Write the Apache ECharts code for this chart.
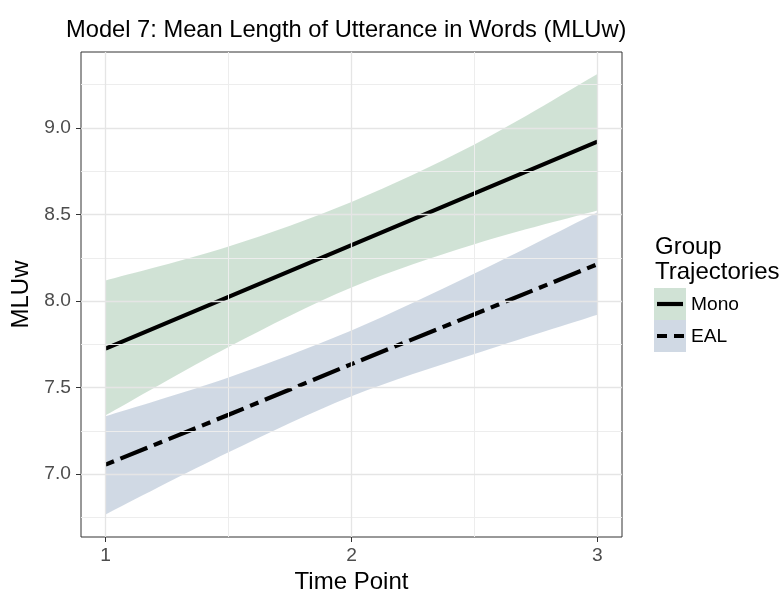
<!DOCTYPE html>
<html>
<head>
<meta charset="utf-8">
<script src="https://cdn.jsdelivr.net/npm/echarts@6/dist/echarts.min.js"></script>
<style>
  html, body { margin: 0; padding: 0; background: #fff; }
  #chart { width: 781px; height: 594px; }
</style>
</head>
<body>
<div id="chart"></div>
<script>
// Time points at which the fitted trajectories and confidence bands are drawn
const timePoints = [1, 1.5, 2, 2.5, 3];

// Monolingual group: fitted MLUw and confidence band
const monoFit   = [7.725, 8.024, 8.323, 8.622, 8.921];
const monoLower = [7.340, 7.735, 8.079, 8.329, 8.523];
const monoUpper = [8.119, 8.315, 8.573, 8.905, 9.312];

// EAL group: fitted MLUw and confidence band
const ealFit   = [7.055, 7.343, 7.636, 7.924, 8.213];
const ealLower = [6.767, 7.126, 7.450, 7.694, 7.921];
const ealUpper = [7.335, 7.559, 7.830, 8.159, 8.513];

// Axis breaks
const xMajorBreaks = [1, 2, 3];
const xMinorBreaks = [1.5, 2.5];
const yMajorBreaks = [7, 7.5, 8, 8.5, 9];
const yMinorBreaks = [6.75, 7.25, 7.75, 8.25, 8.75, 9.25];

// Text
const chartTitle = 'Model 7: Mean Length of Utterance in Words (MLUw)';
const xTitle = 'Time Point';
const yTitle = 'MLUw';
const legendTitle = ['Group', 'Trajectories'];
const groupNames = ['Mono', 'EAL'];

const FONT = '"Liberation Sans", Arial, Helvetica, sans-serif';
const monoFill = 'rgba(100,160,115,0.30)';
const ealFill = 'rgba(100,130,165,0.30)';
const ealDash = [9, 7, 29, 7];
const LINE_W = 4.2;

const majorLine = { color: '#e5e5e5', width: 1.3, type: 'solid' };
const minorLine = { color: '#ededed', width: 1, type: 'solid' };

// Catmull-Rom curve through pixel points, as SVG path commands (no leading move)
function curveThrough(pts) {
  let d = '';
  for (let i = 0; i < pts.length - 1; i++) {
    const p0 = pts[Math.max(i - 1, 0)];
    const p1 = pts[i];
    const p2 = pts[i + 1];
    const p3 = pts[Math.min(i + 2, pts.length - 1)];
    const c1 = [p1[0] + (p2[0] - p0[0]) / 6, p1[1] + (p2[1] - p0[1]) / 6];
    const c2 = [p2[0] - (p3[0] - p1[0]) / 6, p2[1] - (p3[1] - p1[1]) / 6];
    d += ' C' + c1[0] + ',' + c1[1] + ' ' + c2[0] + ',' + c2[1] + ' ' + p2[0] + ',' + p2[1];
  }
  return d;
}

// A confidence band drawn once as a closed, smoothed ribbon
function bandSeries(name, lower, upper, fill) {
  return {
    type: 'custom',
    name: name,
    z: 2,
    silent: true,
    data: timePoints.map((t, i) => [t, lower[i], upper[i]]),
    encode: { x: 0, y: [1, 2] },
    renderItem(params, api) {
      if (params.dataIndex !== 0) return null;
      const top = timePoints.map((t, i) => api.coord([t, upper[i]]));
      const bottom = timePoints.map((t, i) => api.coord([t, lower[i]])).reverse();
      const d = 'M' + top[0][0] + ',' + top[0][1] + curveThrough(top) +
        ' L' + bottom[0][0] + ',' + bottom[0][1] + curveThrough(bottom) + ' Z';
      return {
        type: 'path',
        shape: { pathData: d },
        style: { fill: fill, stroke: null }
      };
    }
  };
}

function fitSeries(name, fit, dash) {
  return {
    type: 'line',
    name: name,
    z: 3,
    silent: true,
    symbol: 'none',
    data: timePoints.map((t, i) => [t, fit[i]]),
    lineStyle: { color: '#000', width: LINE_W, type: dash, cap: 'butt' }
  };
}

const gridMarks = []
  .concat(xMinorBreaks.map(v => ({ xAxis: v, lineStyle: minorLine })))
  .concat(yMinorBreaks.map(v => ({ yAxis: v, lineStyle: minorLine })))
  .concat(xMajorBreaks.map(v => ({ xAxis: v, lineStyle: majorLine })))
  .concat(yMajorBreaks.map(v => ({ yAxis: v, lineStyle: majorLine })));

const chart = echarts.init(document.getElementById('chart'), null, { renderer: 'canvas' });

chart.setOption({
  animation: false,
  backgroundColor: '#ffffff',
  textStyle: { fontFamily: FONT },
  title: {
    text: chartTitle,
    left: 61,
    top: 13,
    textStyle: { fontFamily: FONT, fontSize: 23.7, fontWeight: 'normal', color: '#000' }
  },
  grid: {
    left: 81, right: 159, top: 52, bottom: 57,
    outerBoundsMode: 'none',
    containLabel: false,
    show: true,
    backgroundColor: '#ffffff',
    borderColor: '#333333',
    borderWidth: 1
  },
  xAxis: {
    type: 'value',
    min: 0.9,
    max: 3.1,
    name: xTitle,
    nameLocation: 'middle',
    nameGap: 31,
    nameTextStyle: { fontFamily: FONT, fontSize: 24, color: '#000' },
    axisLine: { show: false },
    splitLine: { show: false },
    axisTick: { show: true, length: 5, customValues: xMajorBreaks, lineStyle: { color: '#333', width: 1 } },
    axisLabel: {
      customValues: xMajorBreaks,
      margin: 9,
      fontFamily: FONT, fontSize: 19.2, color: '#4d4d4d',
      formatter: v => String(v)
    }
  },
  yAxis: {
    type: 'value',
    min: 6.637,
    max: 9.439,
    name: yTitle,
    nameLocation: 'middle',
    nameGap: 44,
    nameTextStyle: { fontFamily: FONT, fontSize: 24, color: '#000' },
    axisLine: { show: false },
    splitLine: { show: false },
    axisTick: { show: true, length: 5, customValues: yMajorBreaks, lineStyle: { color: '#333', width: 1 } },
    axisLabel: {
      customValues: yMajorBreaks,
      margin: 10,
      fontFamily: FONT, fontSize: 19.2, color: '#4d4d4d',
      formatter: v => v.toFixed(1)
    }
  },
  series: [
    {
      type: 'line',
      name: 'grid',
      z: 1,
      silent: true,
      symbol: 'none',
      data: [],
      markLine: {
        silent: true,
        symbol: 'none',
        label: { show: false },
        emphasis: { disabled: true },
        data: gridMarks
      }
    },
    bandSeries(groupNames[0] + ' band', monoLower, monoUpper, monoFill),
    bandSeries(groupNames[1] + ' band', ealLower, ealUpper, ealFill),
    fitSeries(groupNames[0], monoFit, 'solid'),
    fitSeries(groupNames[1], ealFit, ealDash)
  ],
  graphic: [
    { type: 'text', left: 655, top: 235, style: { text: legendTitle[0], font: '24px ' + FONT, fill: '#000' } },
    { type: 'text', left: 655, top: 260, style: { text: legendTitle[1], font: '24px ' + FONT, fill: '#000' } },
    { type: 'rect', shape: { x: 654, y: 288, width: 32, height: 32 }, style: { fill: monoFill } },
    { type: 'rect', shape: { x: 654, y: 320, width: 32, height: 32 }, style: { fill: ealFill } },
    { type: 'line', shape: { x1: 657, y1: 304, x2: 683, y2: 304 }, style: { stroke: '#000', lineWidth: LINE_W } },
    { type: 'line', shape: { x1: 657, y1: 336, x2: 684, y2: 336 }, style: { stroke: '#000', lineWidth: LINE_W, lineDash: [10, 7] } },
    { type: 'text', x: 691, y: 305, style: { text: groupNames[0], font: '19.2px ' + FONT, fill: '#000', verticalAlign: 'middle' } },
    { type: 'text', x: 691, y: 337, style: { text: groupNames[1], font: '19.2px ' + FONT, fill: '#000', verticalAlign: 'middle' } }
  ]
});
</script>
</body>
</html>
